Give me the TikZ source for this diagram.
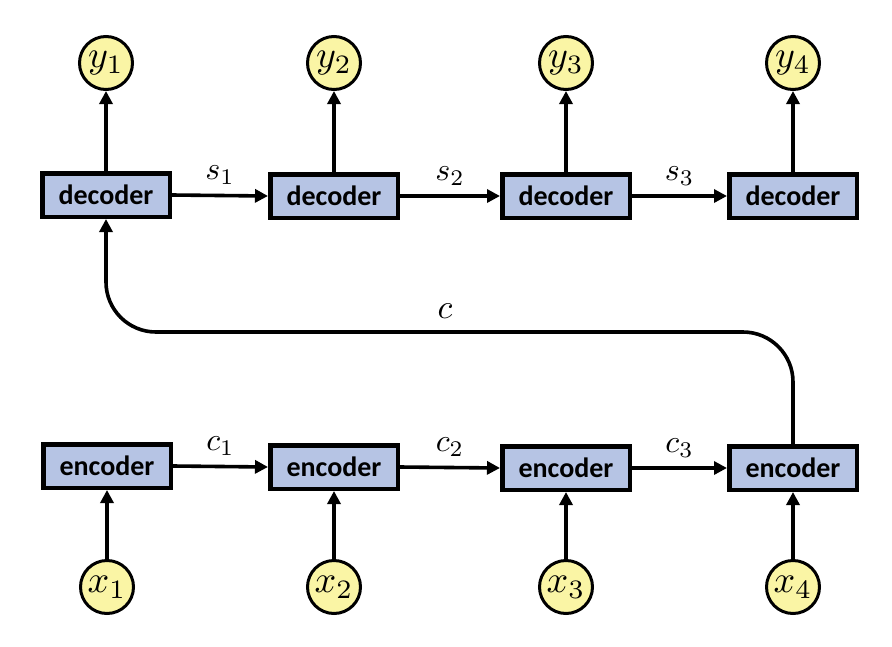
\documentclass[tikz,border=0pt]{standalone}
\usepackage{fontspec}
\setmainfont{Carlito}
\usetikzlibrary{arrows.meta}
\definecolor{boxfill}{RGB}{182,196,228}
\definecolor{circfill}{RGB}{250,245,165}
\tikzset{
  unitbox/.style={draw=black, line width=4.5pt, fill=boxfill, minimum width=127.5pt, minimum height=43.5pt, inner sep=0pt, font=\fontsize{28}{32}\selectfont\bfseries},
  varcirc/.style={draw=black, line width=3pt, fill=circfill, circle, minimum size=53pt, inner sep=0pt},
  arr/.style={line width=3.6pt, -{Triangle[length=13pt,width=13pt]}},
  lbl/.style={inner sep=0pt}
}
\begin{document}
\begin{tikzpicture}[x=1pt,y=-1pt]
\useasboundingbox (0,0) rectangle (892,646);
% decoders
\node[unitbox] (d1) at (106,195) {decoder};
\node[unitbox] (d2) at (334,196) {decoder};
\node[unitbox] (d3) at (566,196) {decoder};
\node[unitbox] (d4) at (793,196) {decoder};
% encoders
\node[unitbox] (e1) at (107,466) {encoder};
\node[unitbox] (e2) at (334,467) {encoder};
\node[unitbox] (e3) at (566,468) {encoder};
\node[unitbox] (e4) at (793,468) {encoder};
% outputs
\node[varcirc] (y1) at (106,63) {\scalebox{3.8}{$y_1$}};
\node[varcirc] (y2) at (334,63) {\scalebox{3.8}{$y_2$}};
\node[varcirc] (y3) at (566,63) {\scalebox{3.8}{$y_3$}};
\node[varcirc] (y4) at (793,63) {\scalebox{3.8}{$y_4$}};
% inputs
\node[varcirc] (x1) at (107,587) {\scalebox{3.8}{$x_1$}};
\node[varcirc] (x2) at (334,587) {\scalebox{3.8}{$x_2$}};
\node[varcirc] (x3) at (566,587) {\scalebox{3.8}{$x_3$}};
\node[varcirc] (x4) at (793,587) {\scalebox{3.8}{$x_4$}};
% vertical arrows
\foreach \i in {1,...,4} {
  \draw[arr] (d\i.north) -- (y\i.south);
  \draw[arr] (x\i.north) -- (e\i.south);
}
\draw[arr] (d1.east) -- node[lbl, above=9pt] {\scalebox{3.2}{$s_1$}} (d2.west);
\draw[arr] (d2.east) -- node[lbl, above=9pt] {\scalebox{3.2}{$s_2$}} (d3.west);
\draw[arr] (d3.east) -- node[lbl, above=9pt] {\scalebox{3.2}{$s_3$}} (d4.west);
\draw[arr] (e1.east) -- node[lbl, above=9pt] {\scalebox{3.2}{$c_1$}} (e2.west);
\draw[arr] (e2.east) -- node[lbl, above=9pt] {\scalebox{3.2}{$c_2$}} (e3.west);
\draw[arr] (e3.east) -- node[lbl, above=9pt] {\scalebox{3.2}{$c_3$}} (e4.west);
% context path
\coordinate (cmid) at (445,332);
\draw[arr, rounded corners=50pt] (e4.north) |- (cmid) -| (d1.south);
\node[lbl] (clab) at (445,311) {\scalebox{3.4}{$c$}};
\end{tikzpicture}
\end{document}
